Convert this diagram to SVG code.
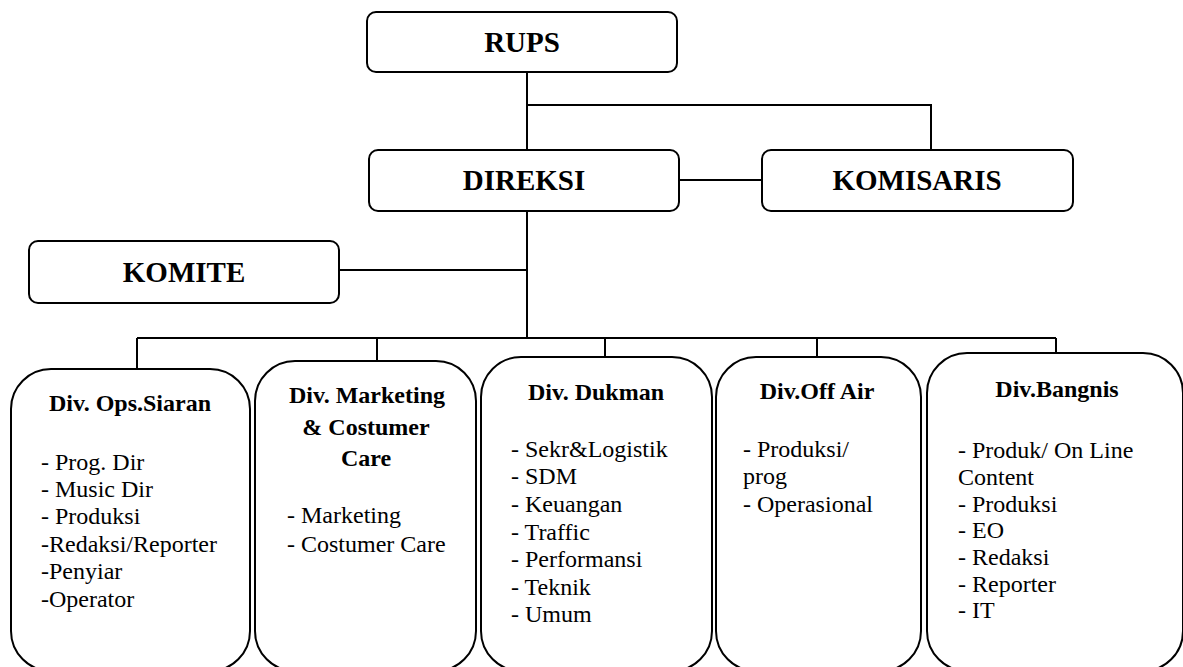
<svg xmlns="http://www.w3.org/2000/svg" width="1183" height="667" viewBox="0 0 1183 667">
<style>
.top{fill:#fff;stroke:#000;stroke-width:2}
.div{fill:#fff;stroke:#000;stroke-width:2}
.conn{stroke:#000;stroke-width:2;fill:none}
.h1{font-family:"Liberation Serif","Times New Roman",serif;font-weight:bold;font-size:29px;text-anchor:middle}
.h2{font-family:"Liberation Serif","Times New Roman",serif;font-weight:bold;font-size:24px;text-anchor:middle}
.li{font-family:"Liberation Serif","Times New Roman",serif;font-size:24px}
</style>
<rect width="1183" height="667" fill="#fff"/>
<g id="connectors" class="conn">
<path d="M527 72V150"/>
<path d="M527 105H931V150"/>
<path d="M679 180H762"/>
<path d="M527 211V338"/>
<path d="M339 270H527"/>
<path d="M137 338H1056"/>
<path d="M137 338V369"/>
<path d="M377 338V361"/>
<path d="M605 338V357"/>
<path d="M817 338V357"/>
<path d="M1056 338V353"/>
</g>
<g id="rups">
<rect class="top" x="367" y="12" width="310" height="60" rx="9"/>
<text class="h1" x="522" y="52">RUPS</text>
</g>
<g id="direksi">
<rect class="top" x="369" y="150" width="310" height="61" rx="9"/>
<text class="h1" x="524" y="190">DIREKSI</text>
</g>
<g id="komisaris">
<rect class="top" x="762" y="150" width="311" height="61" rx="9"/>
<text class="h1" x="917" y="190">KOMISARIS</text>
</g>
<g id="komite">
<rect class="top" x="29" y="241" width="310" height="62" rx="9"/>
<text class="h1" x="184" y="282">KOMITE</text>
</g>
<g id="div-ops-siaran">
<rect class="div" x="11" y="369" width="239" height="302" rx="40"/>
<text class="h2" x="130" y="411">Div. Ops.Siaran</text>
<text class="li" x="41" y="470">- Prog. Dir</text>
<text class="li" x="41" y="497">- Music Dir</text>
<text class="li" x="41" y="524">- Produksi</text>
<text class="li" x="41" y="552">-Redaksi/Reporter</text>
<text class="li" x="41" y="579">-Penyiar</text>
<text class="li" x="41" y="607">-Operator</text>
</g>
<g id="div-marketing">
<rect class="div" x="255" y="361" width="221" height="310" rx="40"/>
<text class="h2" x="367" y="403">Div. Marketing</text>
<text class="h2" x="366" y="435">&amp; Costumer</text>
<text class="h2" x="366" y="466">Care</text>
<text class="li" x="287" y="523">- Marketing</text>
<text class="li" x="287" y="552">- Costumer Care</text>
</g>
<g id="div-dukman">
<rect class="div" x="481" y="357" width="231" height="314" rx="40"/>
<text class="h2" x="596" y="400">Div. Dukman</text>
<text class="li" x="511" y="457">- Sekr&amp;Logistik</text>
<text class="li" x="511" y="484">- SDM</text>
<text class="li" x="511" y="512">- Keuangan</text>
<text class="li" x="511" y="540">- Traffic</text>
<text class="li" x="511" y="567">- Performansi</text>
<text class="li" x="511" y="595">- Teknik</text>
<text class="li" x="511" y="622">- Umum</text>
</g>
<g id="div-off-air">
<rect class="div" x="716" y="357" width="205" height="314" rx="40"/>
<text class="h2" x="817" y="399">Div.Off Air</text>
<text class="li" x="743" y="457">- Produksi/</text>
<text class="li" x="743" y="484">prog</text>
<text class="li" x="743" y="512">- Operasional</text>
</g>
<g id="div-bangnis">
<rect class="div" x="927" y="353" width="256" height="318" rx="40"/>
<text class="h2" x="1057" y="397">Div.Bangnis</text>
<text class="li" x="958" y="458">- Produk/ On Line</text>
<text class="li" x="958" y="485">Content</text>
<text class="li" x="958" y="512">- Produksi</text>
<text class="li" x="958" y="538">- EO</text>
<text class="li" x="958" y="565">- Redaksi</text>
<text class="li" x="958" y="592">- Reporter</text>
<text class="li" x="958" y="618">- IT</text>
</g>
</svg>
